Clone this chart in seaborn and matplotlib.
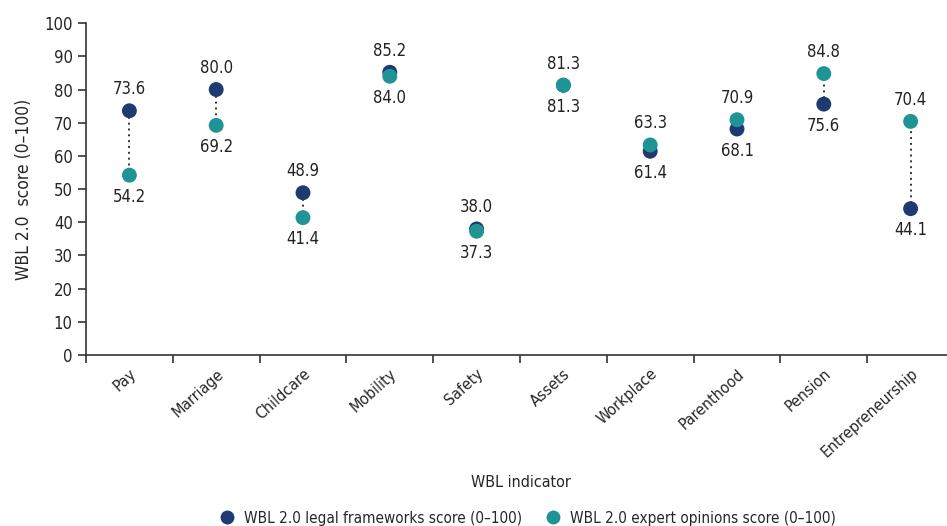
import numpy as np
import pandas as pd
import matplotlib
matplotlib.use("Agg")
import matplotlib.pyplot as plt
import seaborn as sns
from matplotlib.lines import Line2D

# data
indicators = ["Pay", "Marriage", "Childcare", "Mobility", "Safety",
              "Assets", "Workplace", "Parenthood", "Pension", "Entrepreneurship"]
legal_scores = [73.6, 80.0, 48.9, 85.2, 38.0, 81.3, 61.4, 68.1, 75.6, 44.1]
expert_scores = [54.2, 69.2, 41.4, 84.0, 37.3, 81.3, 63.3, 70.9, 84.8, 70.4]

legal_name = "WBL 2.0 legal frameworks score (0\u2013100)"
expert_name = "WBL 2.0 expert opinions score (0\u2013100)"

navy = "#1f3a70"
teal = "#1e9494"

# style
sns.set_style("ticks")
plt.rcParams["font.family"] = ["DejaVu Sans"]
plt.rcParams["font.stretch"] = "condensed"

df = pd.DataFrame({
    "indicator": indicators * 2,
    "score": legal_scores + expert_scores,
    "series": [legal_name] * len(indicators) + [expert_name] * len(indicators),
})
df["pos"] = list(range(len(indicators))) * 2

fig = plt.figure(figsize=(9.47, 5.26), dpi=100)
ax = fig.add_axes([0.0908, 0.325, 0.9166, 0.631])

# dotted connectors
ax.vlines(range(len(indicators)), legal_scores, expert_scores,
          colors="#333333", linestyles=(0, (1, 2)), linewidth=1.4, zorder=1)

sns.scatterplot(
    data=df, x="pos", y="score", hue="series",
    palette={legal_name: navy, expert_name: teal},
    s=115, edgecolor="none", legend=False, ax=ax, zorder=3
)

# value labels: higher value above, lower value below
for i, (lg, ex) in enumerate(zip(legal_scores, expert_scores)):
    if lg >= ex:
        hi, lo = lg, ex
    else:
        hi, lo = ex, lg
    ax.annotate(f"{hi:.1f}", (i, hi), xytext=(0, 9), textcoords="offset points",
                ha="center", va="bottom", fontsize=12, color="#222222")
    ax.annotate(f"{lo:.1f}", (i, lo), xytext=(0, -9), textcoords="offset points",
                ha="center", va="top", fontsize=12, color="#222222")

ax.set_xlim(-0.5, len(indicators) - 0.5)
ax.set_ylim(0, 100)
ax.set_yticks(range(0, 101, 10))
ax.set_xticks(np.arange(len(indicators) + 1) - 0.5)
ax.set_xticklabels([])
ax.set_xticks(range(len(indicators)), minor=True)
ax.set_xticklabels(indicators, minor=True, rotation=42, ha="right",
                   rotation_mode="anchor", fontsize=11.5)
ax.tick_params(axis="x", which="minor", length=0, pad=8)
ax.tick_params(axis="x", which="major", length=6, width=1.2, color="#333333")
ax.tick_params(axis="y", length=6, width=1.2, color="#333333", labelsize=12)

for s in ["top", "right"]:
    ax.spines[s].set_visible(False)
for s in ["left", "bottom"]:
    ax.spines[s].set_linewidth(1.2)
    ax.spines[s].set_color("#333333")

ax.set_ylabel("WBL 2.0  score (0\u2013100)", fontsize=12.5, labelpad=8)
ax.set_xlabel("")
fig.text(0.550, 0.083, "WBL indicator", ha="center", va="center", fontsize=11.5)

handles = [
    Line2D([], [], marker="o", linestyle="none", markersize=10,
           markerfacecolor=navy, markeredgecolor="none", label=legal_name),
    Line2D([], [], marker="o", linestyle="none", markersize=10,
           markerfacecolor=teal, markeredgecolor="none", label=expert_name),
]
fig.legend(handles=handles, loc="center", bbox_to_anchor=(0.553, 0.015),
           ncol=2, frameon=False, fontsize=11, handletextpad=0.1,
           columnspacing=1.0)

fig.savefig("out.png", dpi=100)
plt.close(fig)
